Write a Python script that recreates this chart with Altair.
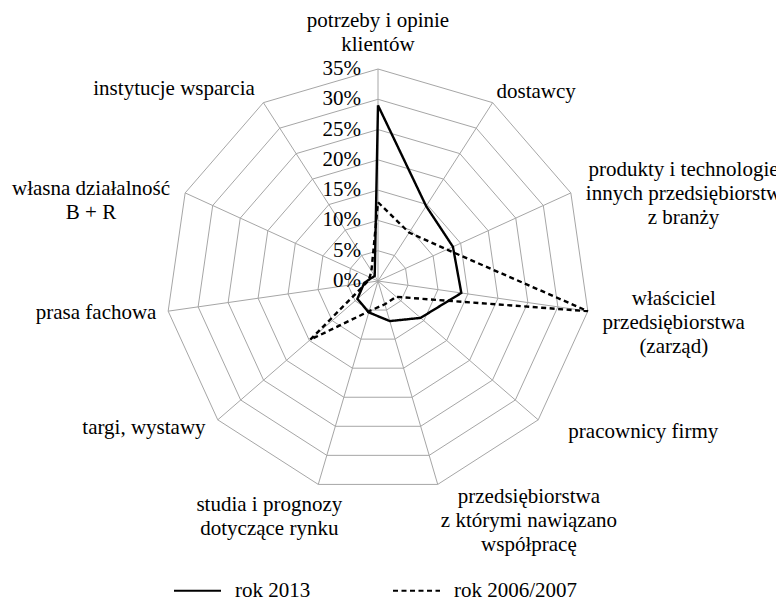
import math
import altair as alt
import pandas as pd

# ---------------- data ----------------
categories = [
    "potrzeby i opinie\nklientów",
    "dostawcy",
    "produkty i technologie\ninnych przedsiębiorstw\nz branży",
    "właściciel\nprzedsiębiorstwa\n(zarząd)",
    "pracownicy firmy",
    "przedsiębiorstwa\nz którymi nawiązano\nwspółpracę",
    "studia i prognozy\ndotyczące rynku",
    "targi, wystawy",
    "prasa fachowa",
    "własna działalność\nB + R",
    "instytucje wsparcia",
]
series_names = ["rok 2013", "rok 2006/2007"]
values_2013 = [29.0, 14.7, 13.6, 13.9, 9.3, 6.9, 5.4, 4.5, 2.3, 1.2, 1.0]
values_2006 = [13.0, 9.5, 12.5, 35.0, 4.0, 4.0, 5.2, 14.8, 1.9, 1.5, 2.0]
tick_values = [0, 5, 10, 15, 20, 25, 30, 35]
tick_labels = ["0%", "5%", "10%", "15%", "20%", "25%", "30%", "35%"]

# ---------------- layout / style ----------------
W, H = 776, 600
CX, CY = 378, 281          # centre of the web, in pixels
RMAX_PX = 212              # radius of the outer ring in pixels
PX = RMAX_PX / tick_values[-1]   # pixels per percentage point
FONT = "Liberation Serif"
FS = 21
LH = 24
GRID = "#a6a6a6"
N = len(categories)
# small per-label nudges (pixels) of the category label boxes
LABEL_NUDGE = {2: (0, 6), 3: (0, 10), 4: (22, 4), 5: (0, -11), 6: (33, -3), 9: (0, 13), 10: (5, -3)}

xscale = alt.Scale(domain=[-CX / PX, (W - CX) / PX], nice=False, zero=False)
yscale = alt.Scale(domain=[-(H - CY) / PX, CY / PX], nice=False, zero=False)

theta_expr = f"datum.idx * 2 * PI / {N}"

# rings
ring_df = pd.DataFrame(
    [{"ring": t, "idx": i} for t in tick_values[1:] for i in range(N + 1)]
)
rings = (
    alt.Chart(ring_df)
    .transform_calculate(theta=theta_expr)
    .transform_calculate(px="datum.ring * sin(datum.theta)", py="datum.ring * cos(datum.theta)")
    .mark_line(color=GRID, strokeWidth=1)
    .encode(
        x=alt.X("px:Q", scale=xscale, axis=None),
        y=alt.Y("py:Q", scale=yscale, axis=None),
        detail="ring:N",
        order="idx:Q",
    )
)

# spokes
spoke_df = pd.DataFrame({"idx": list(range(N)), "r": [tick_values[-1]] * N})
spokes = (
    alt.Chart(spoke_df)
    .transform_calculate(theta=theta_expr, zero="0")
    .transform_calculate(sx="datum.r * sin(datum.theta)", sy="datum.r * cos(datum.theta)")
    .mark_rule(color=GRID, strokeWidth=1)
    .encode(
        x=alt.X("zero:Q", scale=xscale, axis=None),
        y=alt.Y("zero:Q", scale=yscale, axis=None),
        x2="sx:Q",
        y2="sy:Q",
    )
)

# series
ser_rows = []
for name, vals in zip(series_names, [values_2013, values_2006]):
    for i in range(N + 1):
        ser_rows.append({"series": name, "idx": i, "value": vals[i % N]})
series_df = pd.DataFrame(ser_rows)

lines = (
    alt.Chart(series_df)
    .transform_calculate(theta=theta_expr)
    .transform_calculate(px="datum.value * sin(datum.theta)", py="datum.value * cos(datum.theta)")
    .mark_line(color="black", strokeWidth=2.4, strokeJoin="miter")
    .encode(
        x=alt.X("px:Q", scale=xscale, axis=None),
        y=alt.Y("py:Q", scale=yscale, axis=None),
        order="idx:Q",
        strokeDash=alt.StrokeDash(
            "series:N",
            scale=alt.Scale(domain=series_names, range=[[1, 0], [5, 3.5]]),
            legend=alt.Legend(
                title=None,
                orient="none",
                legendX=173,
                legendY=566,
                direction="horizontal",
                symbolType="stroke",
                symbolSize=2209,
                symbolStrokeWidth=2,
                symbolStrokeColor="black",
                labelFont=FONT,
                labelFontSize=FS,
                labelColor="black",
                labelOffset=13,
                columnPadding=78,
                padding=0,
            ),
        ),
    )
)

# tick labels
tick_df = pd.DataFrame({"value": tick_values, "label": tick_labels})
ticks = (
    alt.Chart(tick_df)
    .transform_calculate(zero="0")
    .mark_text(align="right", baseline="middle", dx=-17, font=FONT, fontSize=FS, color="black")
    .encode(
        x=alt.X("zero:Q", scale=xscale, axis=None),
        y=alt.Y("value:Q", scale=yscale, axis=None),
        text="label:N",
    )
)

# category labels (placed around the web from the axis angle)
R_LABEL = 37.0
CHAR_W = 0.44 * FS
lab_rows = []
for i, cat in enumerate(categories):
    th = 2 * math.pi * i / N
    s, c = math.sin(th), math.cos(th)
    parts = cat.split("\n")
    n = len(parts)
    bw = max(len(p) for p in parts) * CHAR_W
    bh = n * LH
    sx = 0 if abs(s) < 0.1 else (1 if s > 0 else -1)
    sy = (1 if c > 0 else -1) if abs(c) > 0.9 else 0
    ndx, ndy = LABEL_NUDGE.get(i, (0, 0))
    cx = R_LABEL * s + (sx * bw / 2 + ndx) / PX
    cy = R_LABEL * c + (sy * bh / 2 - ndy) / PX
    for j, p in enumerate(parts):
        lab_rows.append({"text": p, "lx": cx, "ly": cy + ((n - 1) / 2 - j) * LH / PX})
lab_df = pd.DataFrame(lab_rows)
labels = (
    alt.Chart(lab_df)
    .mark_text(align="center", baseline="middle", font=FONT, fontSize=FS, color="black")
    .encode(
        x=alt.X("lx:Q", scale=xscale, axis=None),
        y=alt.Y("ly:Q", scale=yscale, axis=None),
        text="text:N",
    )
)

chart = (
    alt.layer(rings, spokes, lines, ticks, labels)
    .properties(width=W, height=H, autosize=alt.AutoSizeParams(type="none"), padding=0, background="white")
    .configure_view(strokeWidth=0)
)

chart.save("out.html", embed_options={"renderer": "svg", "actions": False})
